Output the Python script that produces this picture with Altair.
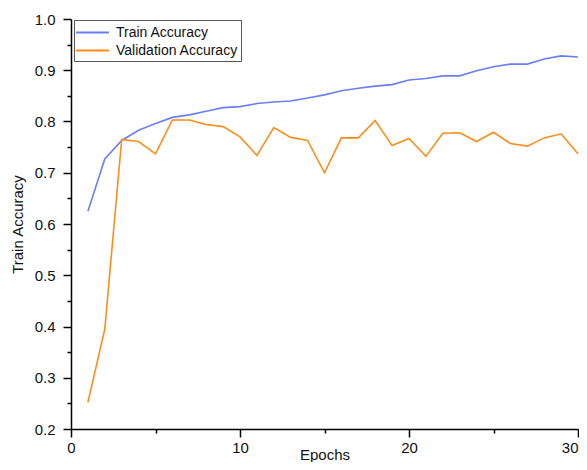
import altair as alt
import pandas as pd

epochs = list(range(1, 31))
train_acc = [0.625, 0.727, 0.763, 0.783, 0.796, 0.808, 0.813, 0.820, 0.827, 0.829,
             0.835, 0.838, 0.840, 0.846, 0.852, 0.860, 0.865, 0.869, 0.872, 0.881,
             0.884, 0.889, 0.889, 0.899, 0.907, 0.912, 0.912, 0.922, 0.928, 0.926]
val_acc = [0.252, 0.395, 0.765, 0.761, 0.737, 0.803, 0.803, 0.794, 0.790, 0.770,
           0.734, 0.788, 0.769, 0.763, 0.700, 0.768, 0.768, 0.802, 0.753, 0.767,
           0.732, 0.777, 0.778, 0.761, 0.779, 0.757, 0.752, 0.768, 0.776, 0.737]
series_names = ["Train Accuracy", "Validation Accuracy"]
series_colors = ["#6A7FF6", "#FF8C1A"]
x_ticks = [0, 5, 10, 15, 20, 25, 30]
y_ticks = [0.2, 0.25, 0.3, 0.35, 0.4, 0.45, 0.5, 0.55, 0.6, 0.65, 0.7, 0.75, 0.8, 0.85, 0.9, 0.95, 1.0]

rows = []
for e, t, v in zip(epochs, train_acc, val_acc):
    rows.append({"Epoch": e, "Accuracy": t, "Series": series_names[0]})
    rows.append({"Epoch": e, "Accuracy": v, "Series": series_names[1]})
df = pd.DataFrame(rows)

FONT = "Liberation Sans"

chart = alt.Chart(df).mark_line(strokeWidth=1.6).encode(
    x=alt.X("Epoch:Q", title="Epochs",
            scale=alt.Scale(domain=[0, 30], nice=False, zero=False),
            axis=alt.Axis(values=x_ticks, grid=False, labelFlush=False,
                          labelExpr="datum.value % 10 == 0 ? datum.label : ''",
                          labelAlign={"condition": {"test": "datum.value == 30", "value": "right"}, "value": "center"},
                          tickSize={"condition": {"test": "datum.value % 10 == 0", "value": 8}, "value": 4},
                          labelPadding=3, titlePadding=-8)),
    y=alt.Y("Accuracy:Q", title="Train Accuracy",
            scale=alt.Scale(domain=[0.2, 1.0], nice=False, zero=False),
            axis=alt.Axis(values=y_ticks, grid=False, format=".1f",
                          labelExpr="round(datum.value*20) % 2 == 0 ? datum.label : ''",
                          tickSize={"condition": {"test": "round(datum.value*20) % 2 == 0", "value": 8}, "value": 4},
                          labelPadding=8, titlePadding=9)),
    color=alt.Color("Series:N", sort=series_names,
                    scale=alt.Scale(domain=series_names, range=series_colors),
                    legend=alt.Legend(title=None, orient="none", legendX=3, legendY=1,
                                      symbolType="M-2,0H2", symbolSize=272, symbolStrokeWidth=2,
                                      symbolOffset=6, labelOffset=14,
                                      strokeColor="#555555", padding=3, rowPadding=1,
                                      labelFontSize=14, labelFont=FONT, labelColor="#111111",
                                      fillColor="white")),
).properties(
    width=507, height=410,
    padding={"left": 63, "top": 11, "right": 1, "bottom": 33},
    autosize=alt.AutoSizeParams(type="none"),
).configure_view(stroke=None).configure_axis(
    domainColor="#000000", domainWidth=1.5, tickColor="#000000", tickWidth=1.5,
    labelFont=FONT, labelFontSize=15, labelColor="#111111",
    titleFont=FONT, titleFontSize=15, titleFontWeight="normal", titleColor="#111111",
)

chart.save("out.html", embed_options={"renderer": "svg", "actions": False})
